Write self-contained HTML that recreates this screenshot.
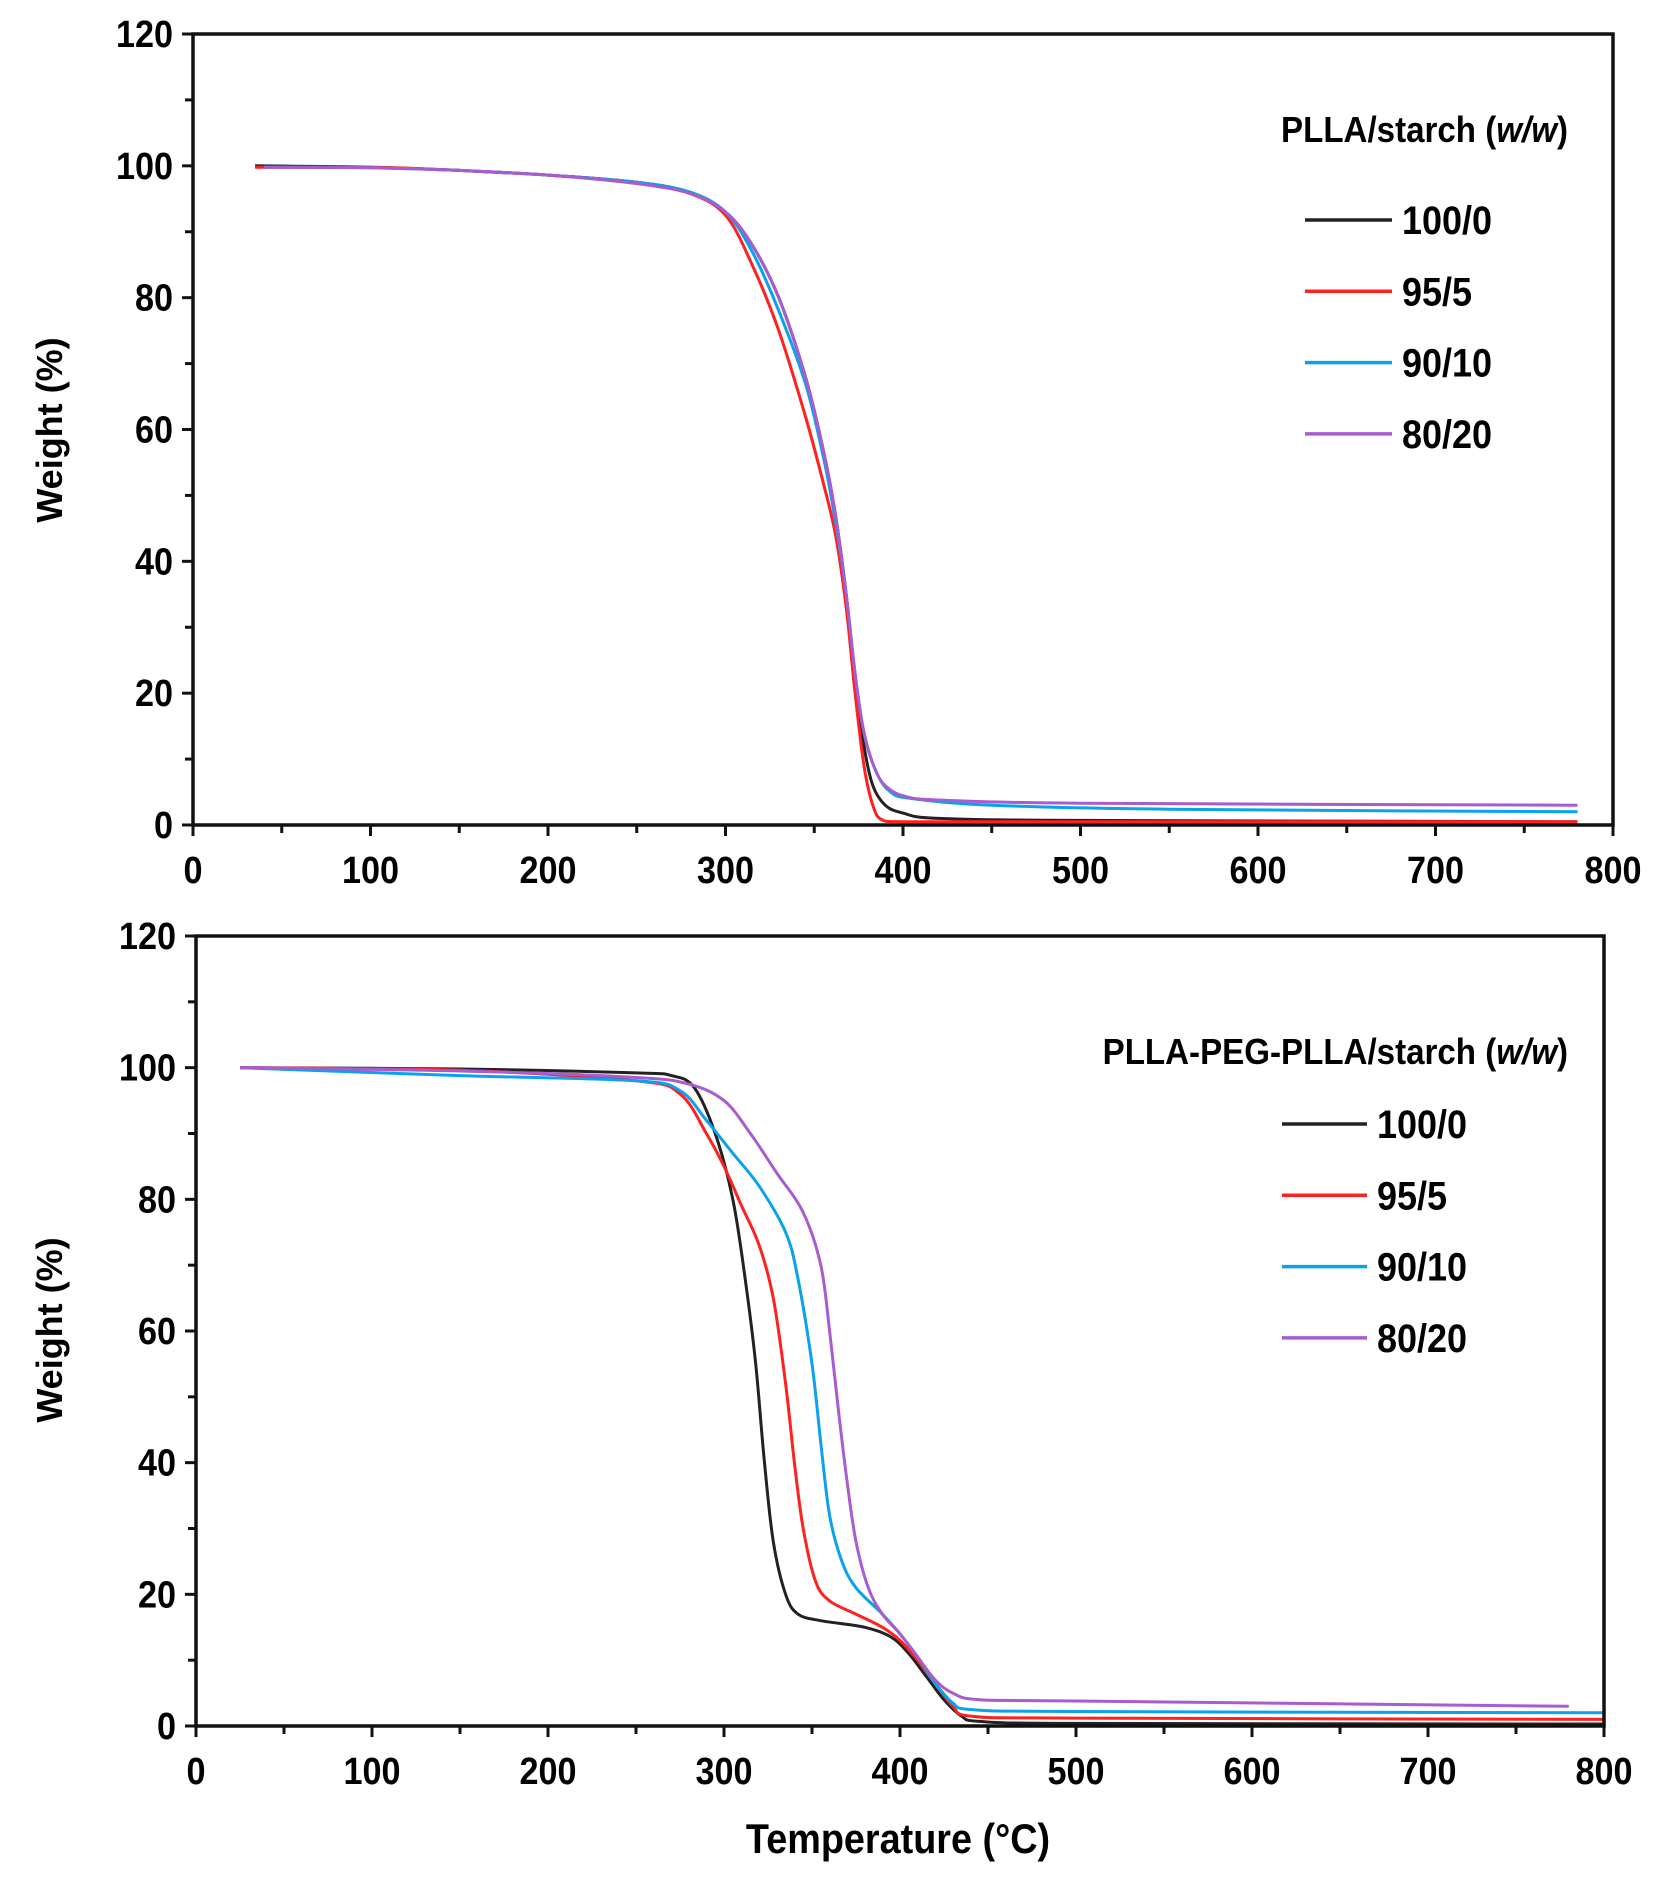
<!DOCTYPE html>
<html><head><meta charset="utf-8"><style>
html,body{margin:0;padding:0;background:#fff}
svg{display:block}
text{font-family:"Liberation Sans",Arial,sans-serif;font-weight:bold;fill:#000}
</style></head><body>
<svg id="s" width="1659" height="1890" viewBox="0 0 1659 1890" xmlns="http://www.w3.org/2000/svg">
<text x="0" y="0" transform="translate(62,430) rotate(-90)" font-size="36" text-anchor="middle">Weight (%)</text>
<text x="0" y="0" transform="translate(62,1330) rotate(-90)" font-size="36" text-anchor="middle">Weight (%)</text>
<text x="0" y="0" transform="translate(898,1853) scale(0.9,1)" font-size="42" text-anchor="middle">Temperature (°C)</text>
<text x="0" y="0" transform="translate(1568,142) scale(0.92,1)" font-size="36" text-anchor="end">PLLA/starch (<tspan font-style="italic">w/w</tspan>)</text>
<text x="0" y="0" transform="translate(1568,1064) scale(0.92,1)" font-size="36" text-anchor="end">PLLA-PEG-PLLA/starch (<tspan font-style="italic">w/w</tspan>)</text>
</svg>
<script>
var s=document.getElementById('s'),NS='http://www.w3.org/2000/svg';
function el(t,a,txt){var e=document.createElementNS(NS,t);for(var k in a)e.setAttribute(k,a[k]);if(txt!==undefined)e.textContent=txt;s.appendChild(e);return e;}
var cols=['#222','#ff2020','#0aa2ec','#a85ccf'];
function cl(v,a,b){return Math.max(Math.min(a,b),Math.min(Math.max(a,b),v));}
function smooth(P){var d='M'+P[0][0].toFixed(1)+' '+P[0][1].toFixed(1);
 for(var i=0;i<P.length-1;i++){var p0=P[i-1]||P[i],p1=P[i],p2=P[i+1],p3=P[i+2]||p2;
  var c1=[p1[0]+(p2[0]-p0[0])/6,p1[1]+(p2[1]-p0[1])/6],c2=[p2[0]-(p3[0]-p1[0])/6,p2[1]-(p3[1]-p1[1])/6];
  c1[0]=cl(c1[0],p1[0],p2[0]);c2[0]=cl(c2[0],p1[0],p2[0]);c1[1]=cl(c1[1],p1[1],p2[1]);c2[1]=cl(c2[1],p1[1],p2[1]);
  d+='C'+c1[0].toFixed(1)+' '+c1[1].toFixed(1)+' '+c2[0].toFixed(1)+' '+c2[1].toFixed(1)+' '+p2[0].toFixed(1)+' '+p2[1].toFixed(1);}
 return d;}
function panel(x0,x1,y0,y1,series,leg){
 var X=function(t){return x0+(x1-x0)*t/800},Y=function(w){return y1-(y1-y0)*w/120};
 series.forEach(function(p,i){var P=p.map(function(q){return [X(q[0]),Y(q[1])]});
  el('path',{d:smooth(P),fill:'none',stroke:cols[i],'stroke-width':3,'stroke-linejoin':'round'});});
 el('rect',{x:x0,y:y0,width:x1-x0,height:y1-y0,fill:'none',stroke:'#111','stroke-width':3.5});
 for(var w=0;w<=120;w+=10){var yy=Y(w);el('line',{x1:x0-(w%20?8:11),x2:x0,y1:yy,y2:yy,stroke:'#111','stroke-width':3});
  if(w%20==0)el('text',{x:0,y:0,transform:'translate('+(x0-20)+','+(yy+13)+') scale(0.9,1)','font-size':38,'text-anchor':'end'},w);}
 for(var t=0;t<=800;t+=50){var xx=X(t);el('line',{x1:xx,x2:xx,y1:y1,y2:y1+(t%100?8:11),stroke:'#111','stroke-width':3});
  if(t%100==0)el('text',{x:0,y:0,transform:'translate('+xx+','+(y1+58)+') scale(0.9,1)','font-size':38,'text-anchor':'middle'},t);}
 var labs=['100/0','95/5','90/10','80/20'];
 for(var i=0;i<4;i++){var ly=leg.y+i*leg.dy;el('line',{x1:leg.x,x2:leg.x+leg.w,y1:ly,y2:ly,stroke:cols[i],'stroke-width':3.5});
  el('text',{x:0,y:0,transform:'translate('+(leg.x+leg.w+10)+','+(ly+14)+') scale(0.9,1)','font-size':40},labs[i]);}
}
panel(193,1613,34,825,[
[[35,100],[100,99.8],[150,99.3],[200,98.6],[250,97.5],[280,96],[300,93],[315,88],[330,80],[345,68],[355,57],[362,47],[368,35],[373,22],[378,12],[383,6],[390,3],[400,1.8],[420,1],[500,0.7],[780,0.5]],
[[35,99.8],[100,99.8],[150,99.3],[200,98.6],[250,97.5],[280,95.8],[300,92.5],[315,85],[330,75],[345,62],[355,52],[362,44],[368,33],[373,20],[378,9],[383,3],[388,0.8],[400,0.5],[500,0.5],[780,0.5]],
[[40,99.8],[100,99.7],[150,99.3],[200,98.6],[250,97.5],[280,96],[300,93],[315,87],[330,78],[345,67],[355,56],[362,46],[368,35],[373,23],[378,14],[385,8],[393,5],[405,4],[450,3],[550,2.4],[780,2]],
[[40,99.8],[100,99.7],[150,99.3],[200,98.6],[250,97.3],[280,95.8],[300,93],[315,88],[330,80],[345,68],[355,57],[362,47],[368,35],[373,23],[378,14],[385,8],[392,5.5],[402,4.3],[420,3.8],[500,3.3],[780,3]]
],{x:1305,w:87,y:220,dy:71.3});
panel(196,1604,936,1726,[
[[25,100],[150,99.8],[250,99.2],[270,98.8],[283,97],[295,90],[305,80],[312,68],[318,55],[323,40],[328,28],[335,20],[342,17],[355,16],[380,15],[395,13.5],[405,11],[415,7.5],[425,4],[435,1.5],[445,0.7],[500,0.4],[800,0.3]],
[[25,100],[150,99.6],[250,98],[275,96],[290,90],[300,85],[310,79],[320,73],[328,65],[335,52],[340,40],[345,30],[352,22],[360,19],[375,17],[390,15],[400,13],[410,10],[420,6.5],[430,3],[440,1.5],[500,1.2],[800,1]],
[[25,100],[150,98.8],[250,98],[275,96.5],[290,92],[305,87],[320,82],[335,75],[342,68],[350,55],[355,43],[360,32],[367,25],[375,21],[390,17],[400,14],[410,10.5],[420,6.5],[430,3.5],[440,2.5],[500,2.2],[800,2]],
[[25,100],[150,99.5],[250,98.5],[280,97.5],[300,95],[315,90],[330,84],[345,78],[355,70],[360,60],[365,48],[370,37],[375,28],[382,21],[390,17],[400,14],[410,10.5],[420,7],[430,5],[445,4],[500,3.8],[780,3]]
],{x:1282,w:85,y:1124,dy:71.3});
</script>
</body></html>
